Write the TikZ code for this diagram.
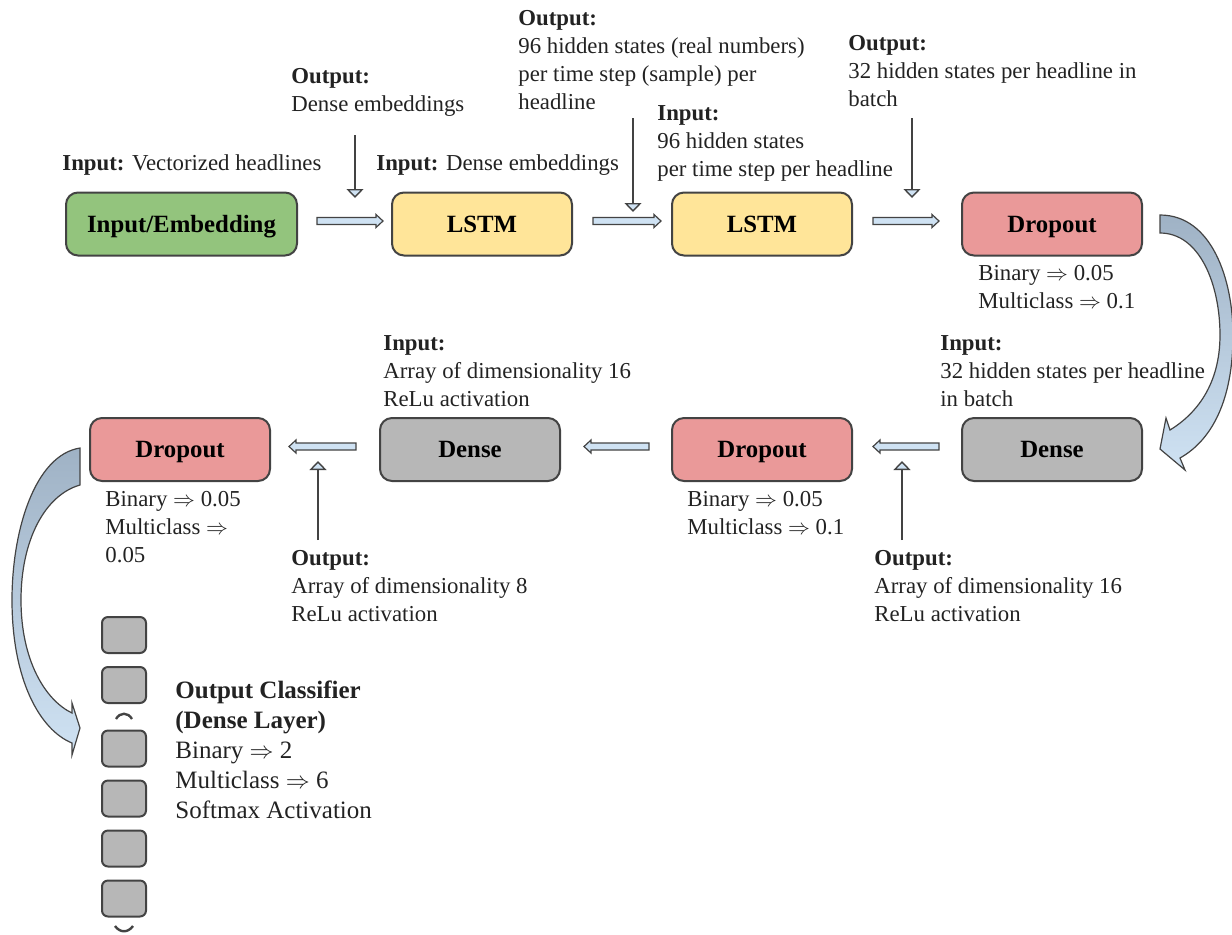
\documentclass[tikz,border=0pt]{standalone}
\usepackage{fontspec}
\setmainfont{Liberation Serif}
\usetikzlibrary{arrows.meta,calc}

\definecolor{embgreen}{HTML}{93C47D}
\definecolor{lstmyellow}{HTML}{FFE599}
\definecolor{dropred}{HTML}{EA9999}
\definecolor{densegray}{HTML}{B7B7B7}
\definecolor{edgegray}{HTML}{434343}
\definecolor{arrowblue}{HTML}{CFE2F3}
\definecolor{steelblue}{HTML}{9FB2C5}
\definecolor{notegray}{HTML}{222222}

% horizontal block arrow between two points on the same level
\newcommand{\flowarrow}[2]{%
  \draw[blockarr] let \p1=(#1), \p2=(#2), \n1={ifthenelse(\x2>\x1,1,-1)} in
    (\x1,\y1+1.75pt) -- (\x2-\n1*3.5pt,\y1+1.75pt) -- (\x2-\n1*3.5pt,\y1+3.25pt)
    -- (\x2,\y1) -- (\x2-\n1*3.5pt,\y1-3.25pt) -- (\x2-\n1*3.5pt,\y1-1.75pt)
    -- (\x1,\y1-1.75pt) -- cycle;}

\begin{document}
\begin{tikzpicture}[x=0.5pt,y=-0.5pt,
  layer/.style={draw=edgegray, line width=1pt, rounded corners=6pt,
    minimum width=90pt, minimum height=31.5pt, inner sep=0pt,
    text height=8.2pt, text depth=0pt,
    font=\fontsize{12.4pt}{14pt}\selectfont\bfseries},
  note/.style={anchor=north west, inner sep=0pt, align=left, text=notegray,
    font=\fontsize{11.4pt}{14pt}\selectfont},
  bignote/.style={note, font=\fontsize{12.5pt}{15pt}\selectfont},
  pointer/.style={draw=edgegray, line width=0.7pt,
    -{Triangle[fill=arrowblue, width=8.5pt, length=4.5pt]}},
  blockarr/.style={draw=edgegray, fill=arrowblue, line width=0.6pt},
  unit/.style={draw=edgegray, fill=densegray, line width=1pt, rounded corners=3pt,
    minimum width=22pt, minimum height=18pt, inner sep=0pt},
  rowturn/.style={draw=edgegray, line width=0.6pt, top color=steelblue, bottom color=arrowblue}
]
\useasboundingbox (0,0) rectangle (1232,934);

% ---- layers, top row
\node[layer, fill=embgreen, minimum width=115.5pt] (emb) at (181.5,224) {Input/Embedding};
\node[layer, fill=lstmyellow] (lstm1) at (482,224) {LSTM};
\node[layer, fill=lstmyellow] (lstm2) at (762,224) {LSTM};
\node[layer, fill=dropred] (drop1) at (1052,224) {Dropout};

% ---- layers, bottom row
\node[layer, fill=densegray] (dense1) at (1052,449.5) {Dense};
\node[layer, fill=dropred] (drop2) at (762,449.5) {Dropout};
\node[layer, fill=densegray] (dense2) at (470,449.5) {Dense};
\node[layer, fill=dropred] (drop3) at (180,449.5) {Dropout};

% ---- output classifier units
\node[unit] (u1) at (124,635) {};
\node[unit] (u2) at (124,685) {};
\node[unit] (u3) at (124,748.5) {};
\node[unit] (u4) at (124,798.5) {};
\node[unit] (u5) at (124,848.5) {};
\node[unit] (u6) at (124,898.5) {};
\draw[edgegray, line width=1.2pt] (116,719) .. controls (120,712) and (128,712) .. (132,719);
\draw[edgegray, line width=1.2pt] (115,926) .. controls (120,933) and (128,933) .. (133,926);

% ---- annotations
\node[note] (t1) at (62,154) {\textbf{Input:} Vectorized headlines};
\node[note] (t2) at (291,68) {\textbf{Output:}\\Dense embeddings};
\node[note] (t3) at (376,154) {\textbf{Input:} Dense embeddings};
\node[note] (t4) at (518,10) {\textbf{Output:}\\96 hidden states (real numbers)\\per time step (sample) per\\headline};
\node[note] (t5) at (657,105) {\textbf{Input:}\\96 hidden states\\per time step per headline};
\node[note] (t6) at (848,35) {\textbf{Output:}\\32 hidden states per headline in\\batch};
\node[note] (t7) at (978,265) {Binary $\Rightarrow$ 0.05\\Multiclass $\Rightarrow$ 0.1};
\node[note] (t8) at (940,335) {\textbf{Input:}\\32 hidden states per headline\\in batch};
\node[note] (t9) at (383,335) {\textbf{Input:}\\Array of dimensionality 16\\ReLu activation};
\node[note] (t10) at (105,491) {Binary $\Rightarrow$ 0.05\\Multiclass $\Rightarrow$\\0.05};
\node[note] (t11) at (687,491) {Binary $\Rightarrow$ 0.05\\Multiclass $\Rightarrow$ 0.1};
\node[note] (t12) at (291,550) {\textbf{Output:}\\Array of dimensionality 8\\ReLu activation};
\node[note] (t13) at (874,550) {\textbf{Output:}\\Array of dimensionality 16\\ReLu activation};
\node[bignote] (t14) at (175,680) {\textbf{Output Classifier}\\\textbf{(Dense Layer)}\\Binary $\Rightarrow$ 2\\Multiclass $\Rightarrow$ 6\\Softmax Activation};

% ---- block arrows between layers
\coordinate (a1s) at ($(emb.east)+(19,-3)$);   \coordinate (a1e) at ($(lstm1.west)+(-8,-3)$);
\coordinate (a2s) at ($(lstm1.east)+(20,-3)$); \coordinate (a2e) at ($(lstm2.west)+(-10,-3)$);
\coordinate (a3s) at ($(lstm2.east)+(20,-3)$); \coordinate (a3e) at ($(drop1.west)+(-22,-3)$);
\coordinate (a4s) at ($(dense1.west)+(-22,-3)$); \coordinate (a4e) at ($(drop2.east)+(20,-3)$);
\coordinate (a5s) at ($(drop2.west)+(-22,-3)$);  \coordinate (a5e) at ($(dense2.east)+(23,-3)$);
\coordinate (a6s) at ($(dense2.west)+(-23,-3)$); \coordinate (a6e) at ($(drop3.east)+(18,-3)$);
\flowarrow{a1s}{a1e}
\flowarrow{a2s}{a2e}
\flowarrow{a3s}{a3e}
\flowarrow{a4s}{a4e}
\flowarrow{a5s}{a5e}
\flowarrow{a6s}{a6e}

% ---- pointers from the annotations
\coordinate (p1s) at (355,135); \coordinate (p1e) at (355,198);
\coordinate (p2s) at (633,118); \coordinate (p2e) at (633,212);
\coordinate (p3s) at (912,118); \coordinate (p3e) at (912,198);
\coordinate (p4s) at (318,540); \coordinate (p4e) at (318,461);
\coordinate (p5s) at (902,540); \coordinate (p5e) at (902,461);
\draw[pointer] (p1s) -- (p1e);
\draw[pointer] (p2s) -- (p2e);
\draw[pointer] (p3s) -- (p3e);
\draw[pointer] (p4s) -- (p4e);
\draw[pointer] (p5s) -- (p5e);

% ---- curved arrows joining the rows
\shadedraw[rowturn] (1160,215) .. controls (1212,215) and (1233,280) .. (1233,335)
  .. controls (1233,400) and (1212,440) .. (1180,458)
  -- (1185,470) -- (1160,449) -- (1166,418) -- (1170,430)
  .. controls (1196,414) and (1220,385) .. (1220,335)
  .. controls (1220,285) and (1200,233) .. (1160,233) -- cycle;
\shadedraw[rowturn] (80,448) .. controls (35,455) and (12,530) .. (12,600)
  .. controls (12,680) and (40,730) .. (72,743)
  -- (72,755) -- (80,728) -- (72,703) -- (72,713)
  .. controls (45,700) and (21,660) .. (21,600)
  .. controls (21,540) and (45,495) .. (80,485) -- cycle;
\end{tikzpicture}
\end{document}
